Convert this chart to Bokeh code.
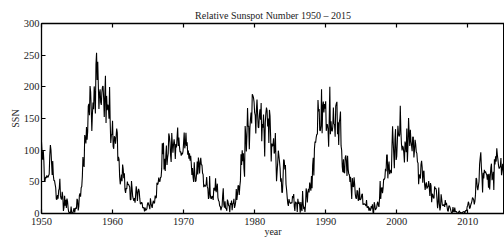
from bokeh.plotting import figure
from bokeh.models import LinearAxis, FixedTicker, Range1d
from bokeh.embed import file_html
from bokeh.resources import INLINE

start_year = 1950
x_ticks = [1950, 1960, 1970, 1980, 1990, 2000, 2010]
y_ticks = [0, 50, 100, 150, 200, 250, 300]

ssn_1950s = [
    113, 95, 85, 100, 83, 50, 52, 58, 56, 60, 58, 57,
    60, 62, 92, 108, 100, 80, 61, 83, 60, 52, 52, 46,
    40.7, 22.7, 22.0, 29.1, 23.4, 36.4, 39.3, 54.9, 28.2, 23.8, 22.1, 34.3,
    26.5, 3.9, 10.0, 27.8, 12.5, 21.8, 8.6, 23.5, 19.3, 8.2, 1.6, 2.5,
    0.2, 0.5, 10.9, 1.8, 0.8, 0.2, 4.8, 8.4, 1.5, 7.0, 9.2, 7.6,
    23.1, 20.8, 4.9, 11.3, 28.9, 31.7, 26.7, 40.7, 42.7, 58.5, 89.2, 76.9,
    73.6, 124.0, 118.4, 110.7, 136.6, 116.6, 129.1, 169.6, 173.2, 155.3, 201.3, 192.1,
    165.0, 130.2, 157.4, 175.2, 164.6, 200.7, 187.2, 158.0, 235.8, 253.8, 210.9, 239.4,
    202.5, 164.9, 190.7, 196.0, 175.3, 171.5, 191.4, 200.2, 201.2, 181.5, 152.3, 187.6,
    217.4, 143.1, 185.7, 163.3, 172.0, 168.7, 149.6, 199.6, 145.2, 111.4, 124.0, 125.0,
]
ssn_1960s = [
    146.3, 106.0, 102.2, 122.0, 119.6, 110.2, 121.7, 134.1, 127.2, 82.8, 89.6, 85.6,
    57.9, 46.1, 53.0, 61.4, 51.0, 77.4, 70.2, 55.9, 63.6, 37.7, 32.6, 40.0,
    38.7, 50.3, 45.6, 46.4, 43.7, 42.0, 21.8, 21.8, 51.3, 39.5, 26.9, 23.2,
    19.8, 24.4, 17.1, 29.3, 43.0, 35.9, 19.6, 33.2, 38.8, 35.3, 23.4, 14.9,
    15.3, 17.7, 16.5, 8.6, 9.5, 9.1, 3.1, 9.3, 4.7, 6.1, 7.4, 15.1,
    17.5, 14.2, 11.7, 6.8, 24.1, 15.9, 11.9, 8.9, 16.8, 20.1, 15.8, 17.0,
    28.2, 24.4, 25.3, 48.7, 45.3, 47.7, 56.7, 51.2, 50.2, 57.2, 57.2, 70.4,
    110.9, 93.6, 111.8, 69.5, 86.5, 67.3, 91.5, 107.2, 76.8, 88.2, 94.3, 126.4,
    121.8, 111.9, 92.2, 81.2, 127.2, 110.3, 96.1, 109.3, 117.2, 107.7, 86.0, 109.8,
    104.4, 120.5, 135.8, 106.8, 120.0, 106.0, 96.8, 98.0, 91.3, 95.7, 93.5, 97.9,
]
ssn_1970s = [
    111.5, 127.8, 102.9, 109.5, 127.5, 106.8, 112.5, 93.0, 99.5, 86.6, 95.2, 83.5,
    91.3, 79.0, 60.7, 71.8, 57.5, 49.8, 81.0, 61.4, 50.2, 51.7, 63.2, 82.2,
    61.5, 88.4, 80.1, 63.2, 80.5, 88.0, 76.5, 76.8, 64.0, 61.3, 41.6, 45.3,
    43.4, 42.9, 46.0, 57.7, 42.4, 39.5, 23.1, 25.6, 59.3, 30.7, 23.9, 23.3,
    27.6, 26.0, 21.3, 40.3, 39.5, 36.0, 55.8, 33.6, 40.2, 47.1, 25.0, 20.5,
    18.9, 11.5, 11.5, 5.1, 9.0, 11.4, 28.2, 39.7, 13.9, 9.1, 19.4, 7.8,
    8.1, 4.3, 21.9, 18.8, 12.4, 12.2, 1.9, 16.4, 13.5, 20.6, 5.2, 15.3,
    16.4, 23.1, 8.7, 12.9, 18.6, 38.5, 21.4, 30.1, 44.0, 43.8, 29.1, 43.2,
    51.9, 93.6, 76.5, 99.7, 82.7, 95.1, 70.4, 58.1, 138.2, 125.1, 97.9, 122.7,
    166.6, 137.5, 138.0, 101.5, 134.4, 149.5, 159.4, 142.2, 188.4, 186.2, 183.3, 176.3,
]
ssn_1980s = [
    159.6, 155.0, 126.2, 164.1, 179.9, 157.3, 136.3, 135.4, 155.0, 164.7, 147.9, 174.4,
    114.0, 141.3, 135.5, 156.4, 127.5, 90.0, 143.8, 158.7, 167.3, 162.4, 137.5, 150.1,
    111.2, 163.6, 153.8, 122.0, 82.2, 110.4, 106.1, 107.6, 118.8, 94.7, 98.1, 127.0,
    84.3, 51.0, 66.5, 80.7, 99.2, 91.1, 82.2, 71.8, 50.3, 55.8, 33.3, 33.4,
    57.0, 85.1, 83.5, 69.7, 76.4, 46.1, 37.4, 25.5, 15.7, 12.0, 22.8, 18.7,
    16.5, 15.9, 17.2, 16.2, 27.5, 24.2, 30.7, 11.1, 3.9, 18.6, 16.2, 17.3,
    2.5, 23.2, 15.1, 18.5, 13.7, 1.1, 18.1, 7.4, 3.8, 35.4, 15.2, 6.8,
    10.4, 2.4, 14.7, 39.6, 33.0, 17.4, 33.9, 38.8, 33.3, 48.8, 42.0, 36.0,
    59.0, 40.0, 76.2, 88.0, 60.1, 101.8, 113.8, 111.8, 120.1, 125.1, 125.1, 179.2,
    161.3, 165.1, 131.4, 130.6, 138.5, 196.2, 126.9, 168.9, 176.7, 159.4, 173.0, 165.5,
]
ssn_1990s = [
    177.3, 130.5, 140.3, 140.3, 132.2, 105.4, 149.4, 200.3, 125.2, 145.5, 131.4, 129.7,
    136.9, 167.5, 141.9, 140.0, 121.3, 169.7, 173.7, 176.3, 125.3, 144.1, 108.2, 144.4,
    150.0, 161.1, 106.7, 99.8, 73.8, 65.2, 85.7, 64.5, 63.9, 88.7, 91.8, 82.6,
    59.3, 91.0, 69.8, 62.2, 61.3, 49.8, 57.9, 42.3, 22.8, 56.1, 43.2, 41.9,
    57.1, 45.8, 30.7, 24.3, 23.5, 36.6, 34.8, 20.0, 21.6, 40.8, 21.5, 22.1,
    24.2, 29.9, 31.1, 14.0, 14.5, 15.6, 14.5, 14.3, 11.8, 21.1, 9.0, 10.0,
    11.5, 4.4, 9.2, 4.8, 5.5, 11.8, 8.2, 14.4, 1.6, 0.9, 17.9, 13.3,
    5.7, 7.6, 8.7, 15.5, 18.5, 12.7, 10.4, 24.4, 51.3, 22.8, 39.0, 41.2,
    31.9, 40.3, 54.8, 53.4, 56.3, 70.7, 66.6, 92.2, 92.9, 55.5, 74.0, 81.9,
    62.0, 66.3, 68.8, 63.7, 106.4, 137.7, 113.5, 93.7, 71.5, 116.7, 133.2, 84.6,
]
ssn_2000s = [
    90.1, 112.9, 138.5, 125.5, 121.6, 124.9, 170.1, 130.5, 109.7, 99.4, 106.8, 104.4,
    95.6, 80.6, 113.5, 107.7, 96.6, 134.0, 81.8, 106.4, 150.7, 125.5, 106.5, 132.2,
    114.1, 107.4, 98.4, 120.7, 120.8, 88.3, 99.6, 116.4, 109.6, 97.5, 95.0, 81.6,
    79.5, 46.2, 61.5, 60.0, 55.2, 77.4, 83.3, 72.7, 48.7, 65.5, 67.3, 46.5,
    37.3, 45.8, 49.1, 39.3, 41.5, 43.2, 51.1, 40.9, 27.7, 48.0, 43.5, 17.9,
    31.3, 29.2, 24.5, 24.2, 42.7, 39.3, 40.1, 36.4, 22.1, 8.5, 18.0, 41.2,
    15.3, 4.9, 10.6, 30.2, 22.3, 13.9, 12.2, 12.9, 14.4, 10.5, 21.4, 13.6,
    16.8, 10.7, 4.5, 3.4, 11.7, 12.1, 9.7, 6.0, 2.4, 0.9, 1.7, 10.1,
    3.3, 2.1, 9.3, 2.9, 2.9, 3.1, 0.5, 0.5, 1.1, 2.9, 4.1, 0.8,
    1.5, 1.4, 0.7, 1.2, 2.9, 2.6, 3.5, 0.0, 4.2, 4.6, 4.2, 10.6,
]
ssn_2010s = [
    13.1, 18.6, 15.4, 7.9, 8.8, 13.5, 16.1, 19.6, 25.2, 23.5, 21.6, 14.5,
    19.0, 29.4, 56.2, 54.4, 41.6, 37.0, 43.9, 50.6, 78.0, 88.0, 96.7, 73.0,
    58.3, 33.1, 64.2, 55.2, 69.0, 64.5, 66.5, 63.0, 61.4, 53.3, 61.8, 40.8,
    62.9, 38.1, 57.9, 72.4, 78.7, 52.5, 57.0, 66.0, 37.0, 85.6, 77.6, 90.3,
    82.0, 102.8, 92.2, 84.7, 75.2, 71.0, 72.4, 74.6, 87.6, 60.6, 70.1, 78.3,
    67.0, 44.8, 38.4, 54.4, 58.8,
]

ssn = ssn_1950s + ssn_1960s + ssn_1970s + ssn_1980s + ssn_1990s + ssn_2000s + ssn_2010s
t = [start_year + i / 12.0 for i in range(len(ssn))]

FONT = "Liberation Serif"

p = figure(width=504, height=241, output_backend="svg", toolbar_location=None,
           x_range=Range1d(1950, 2015.17), y_range=Range1d(0, 300),
           min_border_left=41, min_border_right=0, min_border_top=23,
           min_border_bottom=28, background_fill_color="white",
           border_fill_color="white")

p.line(t, ssn, line_color="black", line_width=1.1)

p.xgrid.visible = False
p.ygrid.visible = False
p.outline_line_color = "black"
p.outline_line_width = 1

p.xaxis.ticker = FixedTicker(ticks=x_ticks)
p.yaxis.ticker = FixedTicker(ticks=y_ticks)
for ax in (p.xaxis[0], p.yaxis[0]):
    ax.axis_line_color = "black"
    ax.axis_line_width = 1.3
    ax.major_tick_in = 4
    ax.major_tick_out = 0
    ax.major_tick_line_color = "black"
    ax.major_tick_line_width = 1.2
    ax.minor_tick_in = 0
    ax.minor_tick_out = 0
    ax.major_label_text_font = FONT
    ax.major_label_text_font_size = "10.5px"
    ax.major_label_text_color = "#222222"
    ax.axis_label_text_font = FONT
    ax.axis_label_text_font_size = "10px"
    ax.axis_label_text_font_style = "normal"
    ax.axis_label_text_color = "#222222"

p.xaxis.axis_label = "year"
p.xaxis.major_label_standoff = 4
p.xaxis.axis_label_standoff = -2
p.yaxis.axis_label = "SSN"
p.yaxis.major_label_standoff = 2
p.yaxis.axis_label_standoff = 0

top = LinearAxis(ticker=FixedTicker(ticks=x_ticks),
                 major_label_overrides={tk: "" for tk in x_ticks},
                 major_tick_in=4, major_tick_out=0, minor_tick_in=0, minor_tick_out=0,
                 major_label_standoff=0, axis_line_color="black", axis_line_width=1.3,
                 major_tick_line_width=1.2)
p.add_layout(top, "above")

p.title.text = "Relative Sunspot Number 1950 \u2013 2015"
p.title.text_font = FONT
p.title.text_font_size = "10px"
p.title.text_font_style = "normal"
p.title.text_color = "#222222"
p.title.align = "center"
p.title.offset = 3
p.title.standoff = 6

open("out.html", "w").write(file_html(p, INLINE))
